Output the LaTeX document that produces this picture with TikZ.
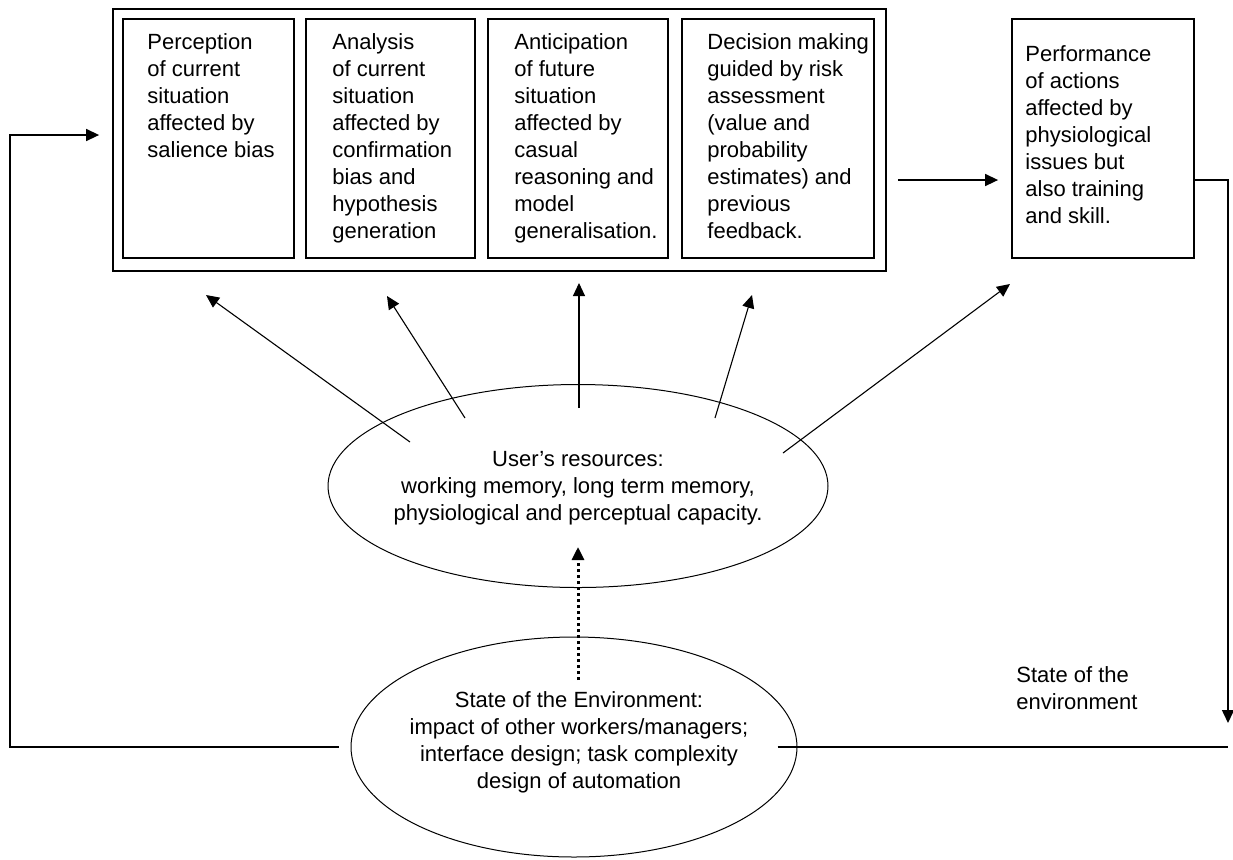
\documentclass[tikz,border=0pt]{standalone}
\usepackage{fontspec}
\setmainfont{Liberation Sans}
\usetikzlibrary{arrows.meta,fit,shapes.geometric}

\begin{document}
\begin{tikzpicture}[x=0.5pt, y=-0.5pt,
  every node/.style={font=\fontsize{11}{13.5}\selectfont},
  stagebox/.style={draw, line width=0.9pt, inner sep=0pt},
  stagetext/.style={anchor=north west, align=left, inner sep=0pt},
  oval/.style={draw, ellipse, line width=0.5pt, inner sep=0pt},
  arr/.style={-{Triangle[length=6.5pt, width=6pt]}, line width=0.75pt},
  thinarr/.style={arr, line width=0.55pt},
  dotarr/.style={arr, line width=1.5pt, dash pattern=on 1.5pt off 1.5pt}]
\useasboundingbox (0,0) rectangle (1233,859);
% the four cognitive stages, boxed together
\node[stagebox, fit={(113,9) (886,271)}] (cog) {};
\node[stagebox, fit={(123,19) (294,258)}] (perc) {};
\node[stagebox, fit={(306,19) (475,258)}] (anal) {};
\node[stagebox, fit={(488,19) (668,258)}] (antic) {};
\node[stagebox, fit={(682,19) (874,258)}] (decis) {};
\node[stagetext] (perc-t) at (147,33) {Perception\\of current\\situation\\affected by\\salience bias};
\node[stagetext] (anal-t) at (332,33) {Analysis\\of current\\situation\\affected by\\confirmation\\bias and\\hypothesis\\generation};
\node[stagetext] (antic-t) at (514,33) {Anticipation\\of future\\situation\\affected by\\casual\\reasoning and\\model\\generalisation.};
\node[stagetext] (decis-t) at (707,33) {Decision making\\guided by risk\\assessment\\(value and\\probability\\estimates) and\\previous\\feedback.};
% acting on the decision
\node[stagebox, fit={(1012,19) (1194,258)}] (perf) {};
\node[stagetext] (perf-t) at (1025,45) {Performance\\of actions\\affected by\\physiological\\issues but\\also training\\and skill.};
% resources and environment
\node[oval, minimum width=250pt, minimum height=101.5pt] (res) at (578,486) {};
\node[align=center] (res-t) at (578,488) {User’s resources:\\working memory, long term memory,\\physiological and perceptual capacity.};
\node[oval, minimum width=223pt, minimum height=110pt] (env) at (574,747) {};
\node[align=center] (env-t) at (579,742) {State of the Environment:\\impact of other workers/managers;\\interface design; task complexity\\design of automation};
\node[stagetext] (envlabel) at (1016,666) {State of the\\environment};
% the loop round the outside
\coordinate (loopL) at (10,135);
\coordinate (act) at (0,180);
\coordinate (loopR) at (1228,723);
\draw[arr] ([xshift=-6pt]env.west) -| (loopL) -- ([xshift=-6.5pt,yshift=2.5pt]cog.west);
\draw[arr] ([xshift=5.5pt]cog.east |- act) -- ([xshift=-6.5pt]perf.west |- act);
\draw[arr] (perf.east |- act) -| (loopR);
\draw[line width=0.75pt] ([xshift=-10pt]env.east) -- (env.east -| loopR);
% resources feed every stage
\foreach \i/\sx/\sy/\tx/\ty in {1/410/442/206/295, 2/465/418/387/296, 3/579/408/579/283,
    4/715/418/752/295, 5/783/453/1010/284} {
  \coordinate (r\i) at (\sx,\sy);
  \coordinate (t\i) at (\tx,\ty);
  \draw[thinarr] (r\i) -- (t\i);
}
\coordinate (dotfrom) at (578,680);
\coordinate (dotto) at (578,547);
\draw[dotarr] (dotfrom) -- (dotto);
\end{tikzpicture}
\end{document}
